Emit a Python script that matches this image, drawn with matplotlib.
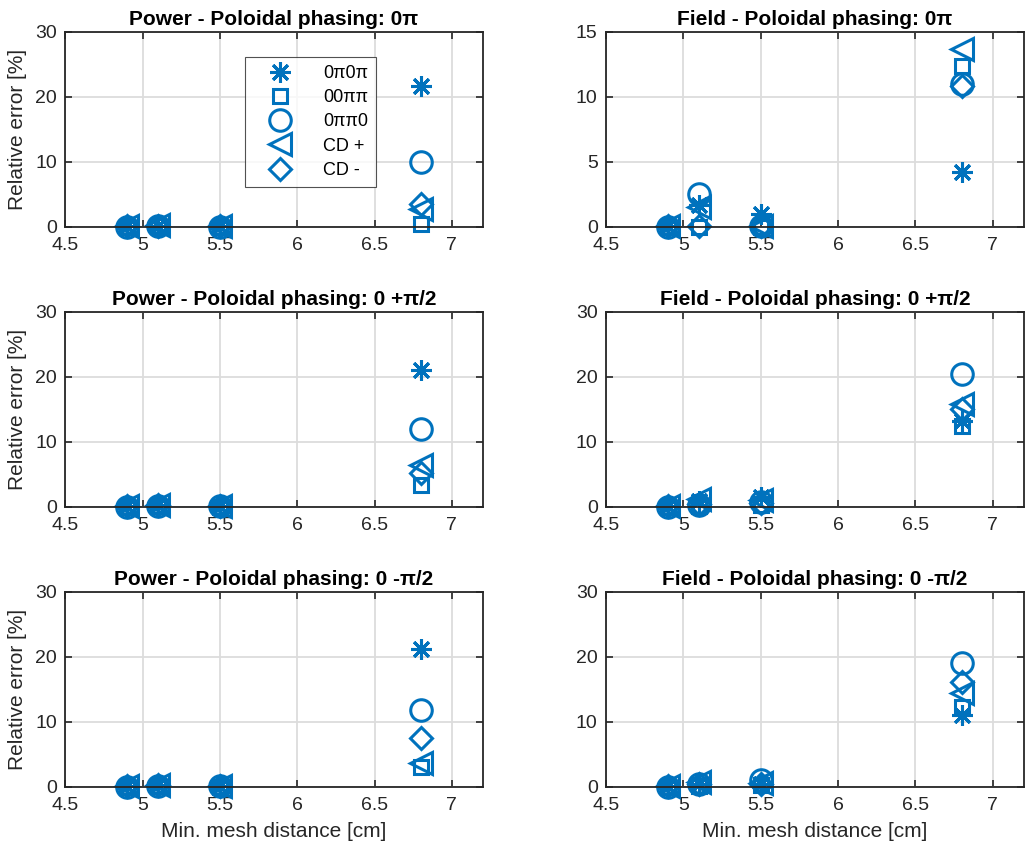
import matplotlib
matplotlib.use('Agg')
import matplotlib.pyplot as plt
import numpy as np

plt.rcParams['font.family'] = ['Liberation Sans', 'DejaVu Sans']

# mesh distances [cm]
mesh = [4.9, 5.1, 5.5, 6.8]

labels = ['0π0π', '00ππ', '0ππ0', 'CD +', 'CD -']

# relative error [%] per case, order: 0π0π, 00ππ, 0ππ0, CD+, CD-
pow_0pi = [[0.1, 0.2, 0.1, 21.7],
           [0.0, 0.1, 0.0, 0.5],
           [0.0, 0.1, 0.0, 10.0],
           [0.1, 0.3, 0.1, 2.8],
           [0.1, 0.2, 0.1, 3.5]]
field_0pi = [[0.1, 1.7, 1.0, 4.2],
             [0.0, 0.0, 0.0, 12.4],
             [0.0, 2.5, 0.1, 11.0],
             [0.1, 1.5, 0.1, 13.7],
             [0.1, 0.1, 0.1, 10.8]]
pow_plus = [[0.1, 0.3, 0.1, 21.0],
            [0.0, 0.1, 0.0, 3.4],
            [0.0, 0.2, 0.1, 12.0],
            [0.1, 0.3, 0.1, 6.5],
            [0.1, 0.3, 0.1, 5.2]]
field_plus = [[0.1, 0.9, 1.6, 13.2],
              [0.0, 0.2, 0.3, 12.4],
              [0.0, 0.3, 0.8, 20.5],
              [0.1, 1.2, 1.0, 15.8],
              [0.1, 0.5, 0.6, 15.0]]
pow_minus = [[0.1, 0.3, 0.1, 21.2],
             [0.0, 0.1, 0.0, 3.1],
             [0.0, 0.2, 0.1, 11.8],
             [0.1, 0.3, 0.1, 3.7],
             [0.1, 0.3, 0.1, 7.6]]
field_minus = [[0.1, 0.5, 0.5, 11.1],
               [0.0, 0.2, 0.3, 12.3],
               [0.0, 0.4, 1.0, 19.0],
               [0.1, 0.8, 0.6, 14.4],
               [0.1, 0.5, 0.5, 16.1]]

panels = [
    (pow_0pi, 'Power - Poloidal phasing: 0π', [0, 10, 20, 30]),
    (field_0pi, 'Field - Poloidal phasing: 0π', [0, 5, 10, 15]),
    (pow_plus, 'Power - Poloidal phasing: 0 +π/2', [0, 10, 20, 30]),
    (field_plus, 'Field - Poloidal phasing: 0 +π/2', [0, 10, 20, 30]),
    (pow_minus, 'Power - Poloidal phasing: 0 -π/2', [0, 10, 20, 30]),
    (field_minus, 'Field - Poloidal phasing: 0 -π/2', [0, 10, 20, 30]),
]

markers = [(8, 2, 0), 's', 'o', '<', 'D']
msizes = [15, 10.5, 15.5, 16, 11.5]
blue = '#0072BD'
dark = '#262626'

fig = plt.figure(figsize=(10.36, 8.52), dpi=100)

lefts = [0.063, 0.585]
bottoms = [0.7336, 0.405, 0.0763]
w, h = 0.403, 0.229

for i, (data, title, yt) in enumerate(panels):
    r, c = divmod(i, 2)
    ax = fig.add_axes([lefts[c], bottoms[r], w, h])
    for k in range(5):
        ax.plot(mesh, data[k], linestyle='none', marker=markers[k],
                ms=msizes[k], mfc='none', mec=blue, mew=2.2, color=blue,
                label=labels[k], clip_on=False)
    ax.set_xlim(4.5, 7.2)
    ax.set_ylim(yt[0], yt[-1])
    ax.set_xticks([4.5, 5, 5.5, 6, 6.5, 7])
    ax.set_xticklabels(['4.5', '5', '5.5', '6', '6.5', '7'])
    ax.set_yticks(yt)
    ax.grid(True, color='#dcdcdc', lw=1.3)
    ax.set_axisbelow(True)
    ax.tick_params(direction='in', top=True, right=True, length=5,
                   width=1.2, labelsize=14, colors=dark)
    ax.tick_params(axis='x', pad=7)
    ax.tick_params(axis='y', pad=6)
    for s in ax.spines.values():
        s.set_linewidth(1.3)
        s.set_color(dark)
    ax.set_title(title, fontsize=15, fontweight='bold', pad=5)
    if c == 0:
        ax.set_ylabel('Relative error [%]', fontsize=15, color=dark, labelpad=6)
    if r == 2:
        ax.set_xlabel('Min. mesh distance [cm]', fontsize=15, color=dark, labelpad=6)
    if i == 0:
        leg = ax.legend(loc='upper left', bbox_to_anchor=(0.43, 0.872),
                        borderaxespad=0, fontsize=13, frameon=True,
                        fancybox=False, handlelength=3.0, handletextpad=0.9,
                        labelspacing=0.4, borderpad=0.45)
        leg.get_frame().set_edgecolor(dark)
        leg.get_frame().set_linewidth(0.8)

plt.savefig('out.png', dpi=100)
